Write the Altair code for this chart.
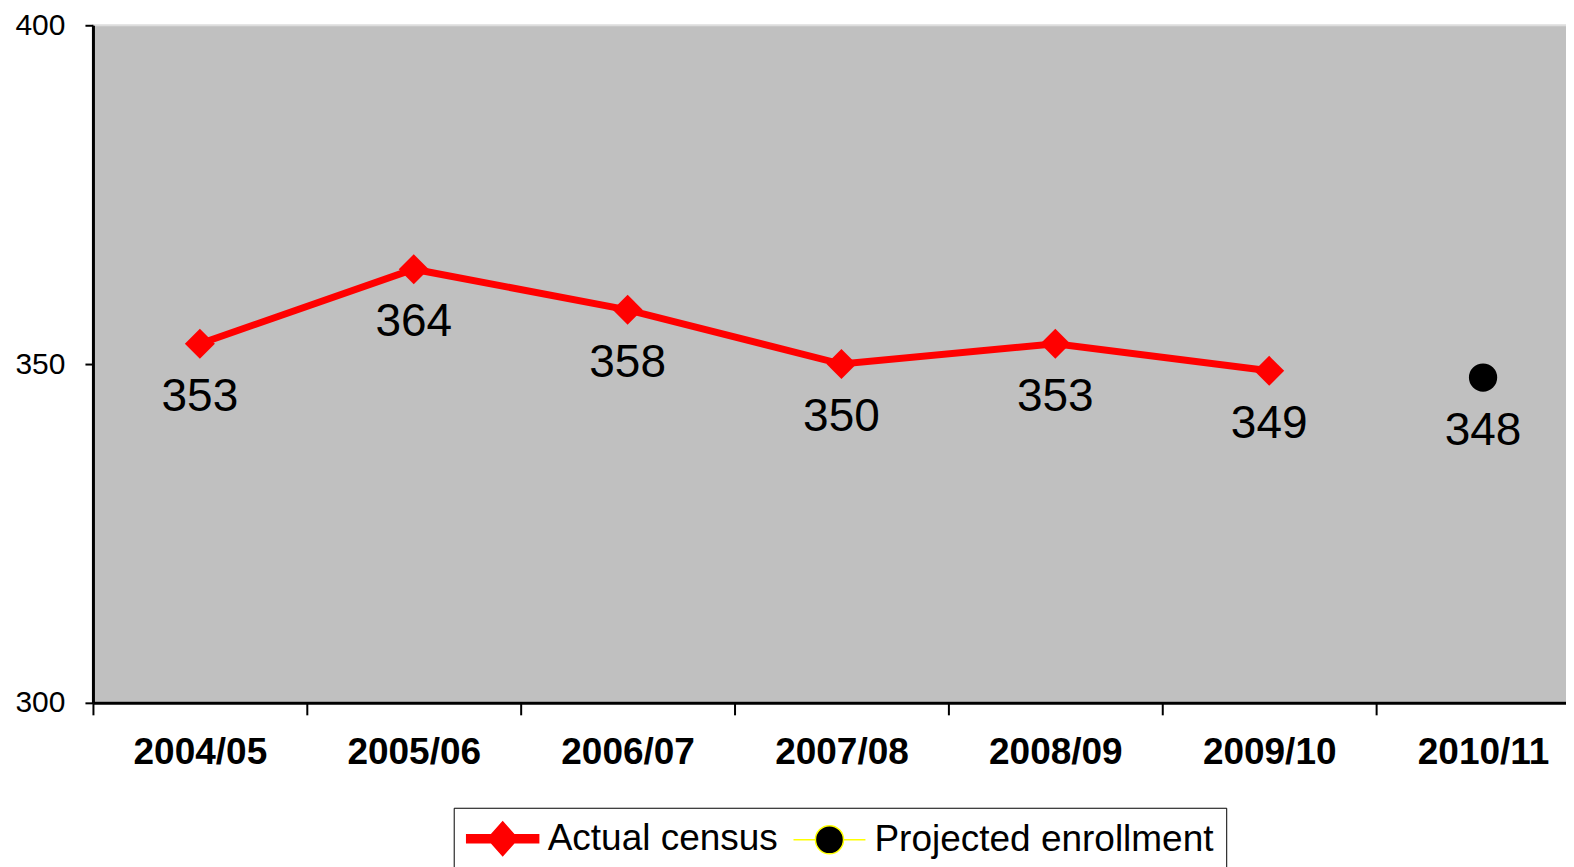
import altair as alt
import pandas as pd

years = ["2004/05", "2005/06", "2006/07", "2007/08", "2008/09", "2009/10", "2010/11"]
actual_years = ["2004/05", "2005/06", "2006/07", "2007/08", "2008/09", "2009/10"]
actual_values = [353, 364, 358, 350, 353, 349]
projected_years = ["2010/11"]
projected_values = [348]
series_names = ["Actual census", "Projected enrollment"]

FONT = "Liberation Sans"

actual_df = pd.DataFrame({"year": actual_years, "value": actual_values})
proj_df = pd.DataFrame({"year": projected_years, "value": projected_values})
label_df = pd.concat([actual_df, proj_df], ignore_index=True)
legend_df = pd.DataFrame({"series": series_names})

x_enc = alt.X(
    "year:N",
    scale=alt.Scale(type="band", domain=years, paddingInner=0, paddingOuter=0),
    bandPosition=0.5,
    axis=alt.Axis(
        title=None, labelAngle=0, labelFont=FONT, labelFontSize=37,
        labelFontWeight="bold", labelColor="black", tickBand="extent",
        tickSize=12, tickWidth=2, tickColor="black", domainColor="black",
        domainWidth=3, labelPadding=20, grid=False,
    ),
)
y_enc = alt.Y(
    "value:Q",
    scale=alt.Scale(domain=[300, 400], zero=False, nice=False),
    axis=alt.Axis(
        title=None, values=[300, 350, 400], labelFont=FONT, labelFontSize=30,
        labelColor="black", tickSize=8, tickWidth=2, tickColor="black",
        domainColor="black", domainWidth=3, labelPadding=20, grid=False,
    ),
)

line = alt.Chart(actual_df).mark_line(color="#FF0000", strokeWidth=7).encode(x=x_enc, y=y_enc)
pts = alt.Chart(actual_df).mark_point(
    shape="diamond", filled=True, color="#FF0000", size=900, opacity=1
).encode(x=x_enc, y=y_enc)
proj = alt.Chart(proj_df).mark_point(
    shape="circle", filled=True, color="black", size=800, opacity=1
).encode(x=x_enc, y=y_enc)
labels = alt.Chart(label_df).mark_text(
    dy=53, fontSize=46, font=FONT, color="black", baseline="middle"
).encode(x=x_enc, y=y_enc, text=alt.Text("value:Q"))

# legend glyphs: unit = 18px, symbol drawn from x=-1 to x=3 (72px wide)
diamond_bar = ("M-1,-0.22L0.364,-0.22L1,-0.94L1.636,-0.22L3,-0.22L3,0.22"
               "L1.636,0.22L1,0.94L0.364,0.22L-1,0.22Z")
circle_bar = ("M-1,0L0.22,0M1.78,0L3,0"
              "M1.78,0A0.78,0.78 0 1,1 0.22,0A0.78,0.78 0 1,1 1.78,0Z")

legend_layer = alt.Chart(legend_df).transform_filter("false").mark_point(
    filled=True, size=1296, opacity=1
).encode(
    color=alt.Color("series:N", scale=alt.Scale(domain=series_names, range=["#FF0000", "black"]),
                    legend=alt.Legend(title=None)),
    stroke=alt.Stroke("series:N", scale=alt.Scale(domain=series_names, range=["#FF0000", "#FFFF00"]),
                      legend=alt.Legend(title=None)),
    shape=alt.Shape("series:N", scale=alt.Scale(domain=series_names, range=[diamond_bar, circle_bar]),
                    legend=alt.Legend(title=None)),
)

chart = alt.layer(line, pts, proj, labels, legend_layer).properties(
    width=1498, height=678,
    padding={"left": 6, "top": 2, "right": -25, "bottom": 0},
    view=alt.ViewBackground(fill="#C0C0C0", stroke="#DDDDDD", strokeWidth=2),
).configure_view(
    fill="#C0C0C0", stroke="#DDDDDD", strokeWidth=2
).configure_legend(
    orient="none", legendX=361, legendY=783, direction="horizontal",
    strokeColor="black", fillColor="white", padding=12,
    labelFont=FONT, labelFontSize=37, labelColor="black",
    symbolSize=1296, symbolStrokeWidth=1.5, symbolOpacity=1,
    columnPadding=12, labelOffset=44, labelLimit=0,
)

chart.save("out.html", embed_options={"renderer": "svg", "actions": False})
